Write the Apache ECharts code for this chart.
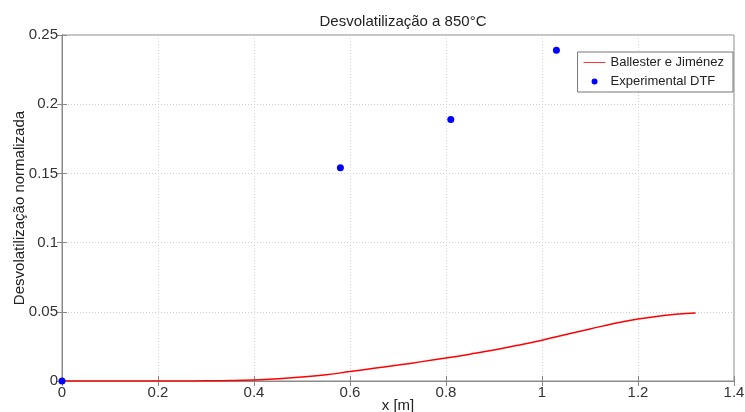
<!DOCTYPE html>
<html>
<head>
<meta charset="utf-8">
<script src="https://cdn.jsdelivr.net/npm/echarts@6/dist/echarts.min.js"></script>
<style>
  html, body { margin: 0; padding: 0; background: #fff; }
  #chart { width: 745px; height: 412px; }
</style>
</head>
<body>
<div id="chart"></div>
<script>
// modelo Ballester e Jiménez
const modelX = [0, 0.05, 0.1, 0.15, 0.2, 0.25, 0.3, 0.35, 0.4, 0.45, 0.5, 0.55, 0.6, 0.65, 0.7,
  0.75, 0.8, 0.85, 0.9, 0.95, 1.0, 1.05, 1.1, 1.15, 1.2, 1.25, 1.3, 1.32]
const modelY = [0, 0, 0, 0, 0, 0, 0.0001, 0.0003, 0.0008, 0.0017, 0.0029, 0.0045, 0.0068, 0.0092, 0.0115,
  0.014, 0.0166, 0.0194, 0.0224, 0.0258, 0.0295, 0.0336, 0.0376, 0.0415, 0.0448, 0.0472, 0.0488, 0.0492]

// pontos experimentais DTF
const expX = [0, 0.58, 0.81, 1.03]
const expY = [0, 0.154, 0.189, 0.239]

const xTicks = [0, 0.2, 0.4, 0.6, 0.8, 1, 1.2, 1.4]
const yTicks = [0, 0.05, 0.1, 0.15, 0.2, 0.25]

const font = 'Liberation Sans, Arial, sans-serif'
const axisGray = '#8a8a8a'

const zip = (xs, ys) => xs.map((x, i) => [x, ys[i]])

const chart = echarts.init(document.getElementById('chart'))

const option = {
  animation: false,
  backgroundColor: '#fff',
  textStyle: { fontFamily: font },
  title: {
    text: 'Desvolatilização a 850°C',
    left: 398,
    textAlign: 'center',
    top: 9,
    textStyle: { fontSize: 15, fontWeight: 'normal', color: '#222', fontFamily: font }
  },
  legend: {
    orient: 'vertical',
    right: 12,
    top: 52,
    backgroundColor: '#fff',
    borderColor: '#777',
    borderWidth: 1,
    padding: [4, 9, 4, 6],
    itemGap: 6,
    itemWidth: 22,
    itemHeight: 10,
    textStyle: { fontSize: 13, color: '#222', fontFamily: font },
    data: [
      {
        name: 'Ballester e Jiménez',
        icon: 'path://M0,0L0.01,0M0,4.5L22,4.5L22,5.5L0,5.5ZM22,10L22.01,10',
        itemStyle: { color: '#ff3333', borderWidth: 0 }
      },
      {
        name: 'Experimental DTF',
        icon: 'path://M0,0L0.01,0M8,5a3,3 0 1,0 6,0a3,3 0 1,0 -6,0ZM22,10L22.01,10',
        itemStyle: { color: '#0000ff', borderWidth: 0 }
      }
    ]
  },
  grid: {
    left: 62, right: 11, top: 35, bottom: 31,
    outerBoundsMode: 'none',
    show: true, borderColor: axisGray, borderWidth: 1
  },
  xAxis: [{
    type: 'value',
    min: xTicks[0], max: xTicks[xTicks.length - 1], interval: 0.2,
    name: 'x [m]', nameLocation: 'middle', nameGap: 17, nameMoveOverlap: false,
    nameTextStyle: { fontSize: 15, color: '#222' },
    axisLine: { show: true, lineStyle: { color: axisGray } },
    axisTick: { show: true, inside: true, length: 5, lineStyle: { color: axisGray } },
    axisLabel: { fontSize: 15, color: '#333', margin: 4, formatter: v => String(+v.toFixed(2)) },
    splitLine: { show: true, lineStyle: { color: '#d0d0d0', type: [1, 2] } }
  }, {
    type: 'value', position: 'top',
    min: xTicks[0], max: xTicks[xTicks.length - 1], interval: 0.2,
    axisLine: { show: true, lineStyle: { color: axisGray } },
    axisTick: { show: true, inside: true, length: 5, lineStyle: { color: axisGray } },
    axisLabel: { show: false }, splitLine: { show: false }
  }],
  yAxis: [{
    type: 'value',
    min: yTicks[0], max: yTicks[yTicks.length - 1], interval: 0.05,
    name: 'Desvolatilização normalizada', nameLocation: 'middle', nameGap: 35, nameMoveOverlap: false,
    nameTextStyle: { fontSize: 15, color: '#222' },
    axisLine: { show: true, lineStyle: { color: axisGray } },
    axisTick: { show: true, inside: true, length: 5, lineStyle: { color: axisGray } },
    axisLabel: { fontSize: 15, color: '#333', margin: 4, formatter: v => String(+v.toFixed(3)) },
    splitLine: { show: true, lineStyle: { color: '#d0d0d0', type: [1, 2] } }
  }, {
    type: 'value', position: 'right',
    min: yTicks[0], max: yTicks[yTicks.length - 1], interval: 0.05,
    axisLine: { show: true, lineStyle: { color: axisGray } },
    axisTick: { show: true, inside: true, length: 5, lineStyle: { color: axisGray } },
    axisLabel: { show: false }, splitLine: { show: false }
  }],
  series: [{
    name: 'Ballester e Jiménez',
    type: 'line',
    smooth: true,
    showSymbol: false,
    symbol: 'none',
    data: zip(modelX, modelY),
    lineStyle: { color: '#ff0000', width: 1.5 },
    itemStyle: { color: '#ff0000' },
    z: 3
  }, {
    name: 'Experimental DTF',
    type: 'scatter',
    symbol: 'circle',
    symbolSize: 7,
    data: zip(expX, expY),
    itemStyle: { color: '#0000ff', opacity: 1 },
    z: 4
  }]
}

chart.setOption(option)
</script>
</body>
</html>
